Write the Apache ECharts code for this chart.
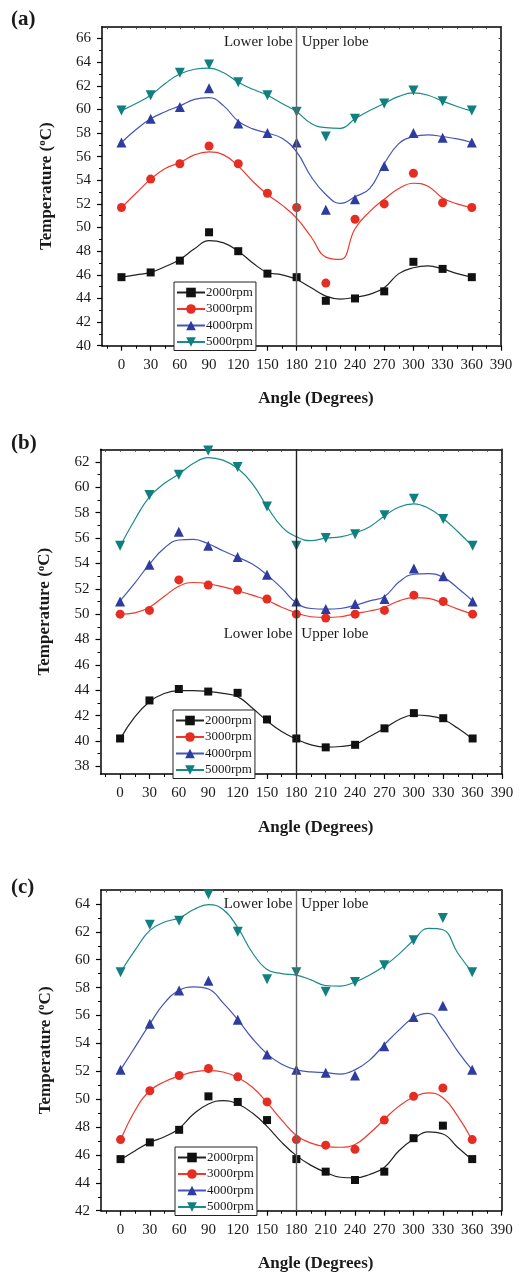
<!DOCTYPE html>
<html>
<head>
<meta charset="utf-8">
<script src="https://cdn.jsdelivr.net/npm/echarts@6/dist/echarts.min.js"></script>
<style>
  html, body { margin: 0; padding: 0; background: #fff; }
  #chart { width: 521px; height: 1273px; }
</style>
</head>
<body>
<div id="chart"></div>
<script>
// Measurement angles around the bearing (degrees) and rotational speeds
const angles = [0, 30, 60, 90, 120, 150, 180, 210, 240, 270, 300, 330, 360];
const fitAngles = [0, 15, 30, 45, 60, 75, 90, 105, 120, 135, 150, 165, 180,
                   195, 210, 225, 240, 255, 270, 285, 300, 315, 330, 345, 360];
const speeds = ['2000rpm', '3000rpm', '4000rpm', '5000rpm'];

// Tick values
const xTickLabels = [0, 30, 60, 90, 120, 150, 180, 210, 240, 270, 300, 330, 360, 390];
const yTicksA = [40, 42, 44, 46, 48, 50, 52, 54, 56, 58, 60, 62, 64, 66];
const yTicksB = [38, 40, 42, 44, 46, 48, 50, 52, 54, 56, 58, 60, 62];
const yTicksC = [42, 44, 46, 48, 50, 52, 54, 56, 58, 60, 62, 64];

// (a) measured temperatures (°C)
const a2000 = [45.8, 46.2, 47.2, 49.6, 48.0, 46.1, 45.8, 43.8, 44.0, 44.6, 47.1, 46.5, 45.8];
const a3000 = [51.7, 54.1, 55.4, 56.9, 55.4, 52.9, 51.7, 45.3, 50.7, 52.0, 54.6, 52.1, 51.7];
const a4000 = [57.2, 59.2, 60.2, 61.8, 58.8, 58.0, 57.2, 51.5, 52.4, 55.2, 58.0, 57.6, 57.2];
const a5000 = [59.9, 61.2, 63.1, 63.8, 62.3, 61.2, 59.8, 57.7, 59.2, 60.5, 61.6, 60.7, 59.9];
// (a) smoothed trend curves
const a2000Fit = [45.8, 46.0, 46.2, 46.7, 47.3, 48.2, 48.9, 48.7, 48.0, 47.0, 46.2, 46.0, 45.6,
                  44.9, 44.2, 43.95, 44.1, 44.35, 44.9, 46.1, 46.6, 46.75, 46.5, 46.1, 45.8];
const a3000Fit = [51.7, 52.9, 54.1, 55.0, 55.5, 56.15, 56.4, 56.15, 55.2, 53.9, 52.8, 51.9, 50.8,
                  49.2, 47.5, 47.3, 49.9, 51.35, 52.4, 53.3, 53.75, 53.5, 52.5, 52.0, 51.7];
const a4000Fit = [57.2, 58.3, 59.2, 59.8, 60.3, 60.85, 61.0, 60.3, 59.0, 58.35, 58.0, 57.55, 56.4,
                  54.3, 52.8, 52.05, 52.6, 53.3, 55.4, 57.1, 57.7, 57.85, 57.7, 57.5, 57.2];
const a5000Fit = [59.9, 60.5, 61.2, 62.2, 63.0, 63.4, 63.5, 63.1, 62.3, 61.7, 61.2, 60.5, 59.8,
                  58.8, 58.45, 58.4, 59.2, 59.9, 60.5, 61.1, 61.4, 61.2, 60.7, 60.25, 59.85];

// (b) measured temperatures (°C)
const b2000 = [40.2, 43.2, 44.1, 43.9, 43.8, 41.7, 40.2, 39.5, 39.7, 41.0, 42.2, 41.8, 40.2];
const b3000 = [50.0, 50.3, 52.7, 52.3, 51.9, 51.2, 50.0, 49.7, 50.0, 50.3, 51.5, 51.0, 50.0];
const b4000 = [51.0, 53.9, 56.5, 55.4, 54.5, 53.1, 51.0, 50.4, 50.8, 51.2, 53.6, 53.0, 51.0];
const b5000 = [55.4, 59.4, 61.0, 62.9, 61.6, 58.5, 55.4, 56.0, 56.3, 57.8, 59.1, 57.5, 55.4];
// (b) smoothed trend curves
const b2000Fit = [40.15, 41.9, 43.1, 43.75, 43.98, 43.98, 43.9, 43.75, 43.5, 42.6, 41.6, 40.75, 40.15,
                  39.7, 39.52, 39.57, 39.75, 40.35, 41.0, 41.7, 42.05, 41.98, 41.7, 41.0, 40.15];
const b3000Fit = [50.0, 50.1, 50.55, 51.4, 52.2, 52.5, 52.4, 52.15, 51.85, 51.5, 51.1, 50.55, 50.1,
                  49.8, 49.75, 49.8, 50.05, 50.25, 50.55, 51.05, 51.3, 51.25, 50.85, 50.4, 50.0];
const b4000Fit = [51.05, 52.45, 53.95, 55.2, 55.85, 55.9, 55.55, 55.0, 54.5, 53.95, 53.1, 52.05, 50.9,
                  50.45, 50.4, 50.45, 50.7, 51.05, 51.4, 52.55, 53.15, 53.2, 52.9, 52.05, 51.05];
const b5000Fit = [55.35, 57.45, 59.25, 60.3, 61.05, 61.9, 62.35, 62.15, 61.5, 60.3, 58.5, 56.9, 56.1,
                  55.8, 56.0, 56.1, 56.4, 56.9, 57.75, 58.45, 58.7, 58.35, 57.55, 56.5, 55.35];

// (c) measured temperatures (°C)
const c2000 = [45.7, 46.9, 47.8, 50.2, 49.8, 48.5, 45.7, 44.8, 44.2, 44.8, 47.2, 48.1, 45.7];
const c3000 = [47.1, 50.6, 51.7, 52.2, 51.6, 49.8, 47.1, 46.7, 46.4, 48.5, 50.2, 50.8, 47.1];
const c4000 = [52.1, 55.4, 57.8, 58.5, 55.7, 53.2, 52.1, 51.9, 51.7, 53.8, 55.9, 56.7, 52.1];
const c5000 = [59.1, 62.5, 62.8, 64.7, 62.0, 58.6, 59.1, 57.7, 58.4, 59.6, 61.4, 63.0, 59.1];
// (c) smoothed trend curves
const c2000Fit = [45.65, 46.3, 46.9, 47.3, 47.9, 48.95, 49.65, 49.9, 49.65, 49.0, 48.05, 46.9, 45.95,
                  45.25, 44.75, 44.4, 44.35, 44.6, 45.1, 46.3, 47.15, 47.65, 47.5, 46.55, 45.65];
const c3000Fit = [47.05, 49.2, 50.6, 51.25, 51.65, 51.95, 52.05, 51.95, 51.55, 50.85, 49.75, 48.5, 47.4,
                  46.85, 46.6, 46.55, 46.75, 47.55, 48.55, 49.5, 50.15, 50.45, 50.1, 48.8, 47.05];
const c4000Fit = [52.1, 53.75, 55.4, 56.9, 57.8, 58.05, 57.9, 56.9, 55.7, 54.35, 53.25, 52.5, 52.1,
                  51.95, 51.9, 51.8, 52.1, 52.8, 53.9, 54.95, 55.85, 56.15, 55.0, 53.45, 52.1];
const c5000Fit = [59.1, 60.7, 62.1, 62.7, 63.0, 63.6, 63.95, 63.6, 62.3, 60.5, 59.3, 59.0, 58.9,
                  58.55, 58.15, 58.1, 58.4, 58.9, 59.55, 60.4, 61.4, 62.25, 62.15, 60.5, 59.1];

const panelData = [
  { tag: '(a)', ticks: yTicksA, pts: [a2000, a3000, a4000, a5000], fits: [a2000Fit, a3000Fit, a4000Fit, a5000Fit] },
  { tag: '(b)', ticks: yTicksB, pts: [b2000, b3000, b4000, b5000], fits: [b2000Fit, b3000Fit, b4000Fit, b5000Fit] },
  { tag: '(c)', ticks: yTicksC, pts: [c2000, c3000, c4000, c5000], fits: [c2000Fit, c3000Fit, c4000Fit, c5000Fit] }
];

// ---- layout and styling ----
const layout = [
  { left: 102, right: 20, top: 26.7, height: 319, yMin: 40, yMax: 67, lobeY: 65.7, tagTop: 4, legendTop: 283, legendLeft: 174, xNameGap: 44, lobeLine: '#666' },
  { left: 100.5, right: 19, top: 449.3, height: 324.7, yMin: 37.4, yMax: 63, lobeY: 48.4, tagTop: 428, legendTop: 711, legendLeft: 173, xNameGap: 45, lobeLine: '#222' },
  { left: 101, right: 19.5, top: 890, height: 320.7, yMin: 42, yMax: 65, lobeY: 64.0, tagTop: 872, legendTop: 1148, legendLeft: 175, xNameGap: 44, lobeLine: '#666' }
];
const colors = ['#111111', '#e52d22', '#2d3c9e', '#0f7f7f'];
const lineColors = ['#222222', '#ee3a2e', '#4455b5', '#1a8a8a'];
const shapes = ['rect', 'circle', 'triangle', 'path://M0,0 L10,0 L5,8.66 Z'];
const sizes = [8, 9, 10, 10];
const FONT = '"Liberation Serif", "DejaVu Serif", serif';
const TXT = '#1a1a1a';

function range(a, b, step) {
  const out = [];
  for (let v = a; v <= b + 1e-9; v += step) out.push(Math.round(v * 100) / 100);
  return out;
}
const xMinor = range(-15, 375, 30);
const xFrame = range(-15, 390, 15);

const option = {
  animation: false,
  backgroundColor: '#fff',
  title: [], grid: [], xAxis: [], yAxis: [], legend: [], series: []
};

panelData.forEach((pd, i) => {
  const L = layout[i];
  const yMinor = pd.ticks.map(v => v + 1).filter(v => v < L.yMax);
  const yFrame = range(Math.ceil(L.yMin), Math.floor(L.yMax), 1);

  option.title.push({
    text: pd.tag, left: 6, top: L.tagTop,
    textStyle: { fontFamily: FONT, fontWeight: 'bold', fontSize: 21, color: TXT }
  });
  option.grid.push({ left: L.left, right: L.right, top: L.top, height: L.height });

  const xi = i * 3, yi = i * 3;
  // bottom axis with labels and major ticks
  option.xAxis.push({
    type: 'value', gridIndex: i, position: 'bottom', min: -20, max: 390,
    splitLine: { show: false },
    axisLine: { onZero: false, lineStyle: { color: '#000', width: 1.5 } },
    axisTick: { customValues: xTickLabels, length: 5, lineStyle: { color: '#000', width: 1.2 } },
    axisLabel: { customValues: xTickLabels, fontFamily: FONT, fontSize: 15, color: TXT, margin: 12 },
    name: 'Angle (Degrees)', nameLocation: 'middle', nameGap: L.xNameGap,
    nameTextStyle: { fontFamily: FONT, fontWeight: 'bold', fontSize: 17, color: TXT, padding: [0, 0, 0, 29] }
  });
  // bottom minor ticks
  option.xAxis.push({
    type: 'value', gridIndex: i, position: 'bottom', min: -20, max: 390,
    splitLine: { show: false }, axisLine: { show: false, onZero: false },
    axisTick: { customValues: xMinor, length: 3, lineStyle: { color: '#000', width: 1 } },
    axisLabel: { show: false }
  });
  // top frame
  option.xAxis.push({
    type: 'value', gridIndex: i, position: 'top', min: -20, max: 390,
    splitLine: { show: false },
    axisLine: { onZero: false, lineStyle: { color: '#000', width: 1.5 } },
    axisTick: { customValues: xFrame, inside: true, length: 2.5, lineStyle: { color: '#444', width: 1 } },
    axisLabel: { show: false }
  });
  // left axis with labels and major ticks
  option.yAxis.push({
    type: 'value', gridIndex: i, position: 'left', min: L.yMin, max: L.yMax,
    splitLine: { show: false },
    axisLine: { onZero: false, lineStyle: { color: '#000', width: 1.5 } },
    axisTick: { customValues: pd.ticks, length: 5, lineStyle: { color: '#000', width: 1.2 } },
    axisLabel: { customValues: pd.ticks, fontFamily: FONT, fontSize: 15, color: TXT, margin: 11 },
    name: 'Temperature ({sup|o}C)', nameLocation: 'middle', nameRotate: 90, nameGap: 46,
    nameTextStyle: {
      fontFamily: FONT, fontWeight: 'bold', fontSize: 17, color: TXT,
      rich: { sup: { fontFamily: FONT, fontWeight: 'bold', fontSize: 11, color: TXT, padding: [0, 0, 8, 0] } }
    }
  });
  // left minor ticks
  option.yAxis.push({
    type: 'value', gridIndex: i, position: 'left', min: L.yMin, max: L.yMax,
    splitLine: { show: false }, axisLine: { show: false, onZero: false },
    axisTick: { customValues: yMinor, length: 3, lineStyle: { color: '#000', width: 1 } },
    axisLabel: { show: false }
  });
  // right frame
  option.yAxis.push({
    type: 'value', gridIndex: i, position: 'right', min: L.yMin, max: L.yMax,
    splitLine: { show: false },
    axisLine: { onZero: false, lineStyle: { color: '#000', width: 1.5 } },
    axisTick: { customValues: yFrame, inside: true, length: 2.5, lineStyle: { color: '#444', width: 1 } },
    axisLabel: { show: false }
  });

  option.legend.push({
    data: speeds, orient: 'vertical', left: L.legendLeft, top: L.legendTop - 1,
    itemWidth: 28, itemHeight: 12, itemGap: 3.5, padding: [4, 3, 2, 2],
    borderColor: '#222', borderWidth: 1, backgroundColor: '#fff',
    textStyle: { fontFamily: FONT, fontSize: 13, color: TXT, padding: [0, 0, 0, -4] }
  });

  speeds.forEach((name, k) => {
    // smoothed trend curve
    option.series.push({
      type: 'line', name, xAxisIndex: xi, yAxisIndex: yi,
      data: fitAngles.map((a, j) => [a, pd.fits[k][j]]),
      smooth: 0.45, showSymbol: false, symbol: shapes[k], symbolSize: sizes[k],
      lineStyle: { color: lineColors[k], width: 1.2 },
      itemStyle: { color: colors[k] },
      z: 2
    });
    // measured points
    option.series.push({
      type: 'scatter', name, xAxisIndex: xi, yAxisIndex: yi,
      data: angles.map((a, j) => [a, pd.pts[k][j]]),
      symbol: shapes[k], symbolSize: sizes[k],
      itemStyle: { color: colors[k], opacity: 1 },
      z: 3
    });
  });

  // lobe boundary at 180° with its annotations
  option.series.push({
    type: 'line', name: 'lobe', xAxisIndex: xi, yAxisIndex: yi, data: [],
    markLine: {
      silent: true, symbol: 'none', label: { show: false },
      lineStyle: { color: L.lobeLine, width: 1.4, type: 'solid' },
      data: [{ xAxis: 180 }]
    },
    markPoint: {
      silent: true, symbolSize: 0,
      label: { fontFamily: FONT, fontSize: 15, color: TXT },
      data: [
        { coord: [180, L.lobeY], label: { formatter: 'Lower lobe', position: 'left', distance: 4 } },
        { coord: [180, L.lobeY], label: { formatter: 'Upper lobe', position: 'right', distance: 5 } }
      ]
    },
    z: 1
  });
});

const chart = echarts.init(document.getElementById('chart'), null, { renderer: 'canvas' });
chart.setOption(option);
</script>
</body>
</html>
